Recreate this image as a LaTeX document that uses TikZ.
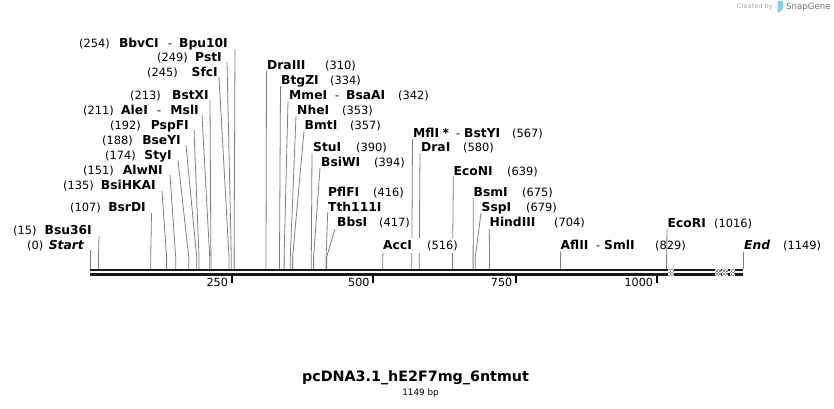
\documentclass[tikz,border=0pt]{standalone}
\usepackage{fontspec}
\setmainfont{DejaVu Sans}
\definecolor{linegray}{HTML}{808080}
\definecolor{logoblue}{HTML}{7FD0F0}
\begin{document}
\begin{tikzpicture}[x=1pt,y=-1pt,
  nm/.style={font=\fontsize{12.3}{13}\selectfont\bfseries, inner sep=0pt, anchor=base west},
  nmr/.style={nm, anchor=base east},
  nmit/.style={font=\fontsize{12.3}{13}\selectfont\bfseries\itshape, inner sep=0pt, anchor=base west},
  nmitr/.style={nmit, anchor=base east},
  num/.style={font=\fontsize{11.4}{12}\selectfont, inner sep=0pt, anchor=base west},
  hy/.style={num},
  siteline/.style={draw=linegray, line width=0.8pt},
  ticklab/.style={font=\fontsize{11.2}{12}\selectfont, inner sep=0pt, anchor=base east},
  tickbar/.style={fill=black}]
\useasboundingbox (0,0) rectangle (834,408);
\fill[white] (0,0) rectangle (834,408);

% ---------- site lines ----------
\foreach \n/\tx/\ty/\sx in {
  l1/235/49/234.1, l2/227/62/231.3, l3/219/77/229.0, l4/210/100/210.9,
  l5/202/115/209.7, l6/194/130/199.0, l7/186/145/196.7, l8/178/160/188.7,
  l9/170/175/175.7, l10/162/191/166.6, l11/151.5/213/150.7, l12/99/236/98.5,
  l13/90.5/250/90.5,
  r1/266.5/71/266, r2/280.5/86/279.5, r3/288/101/284.1, r4/296/116/290.3,
  r5/304/131/292.6, r6/312/153/311.3, r7/320/168/313.6, r8/327.7/212/326.1,
  r9/335/229/326.6, r10/383/252/382.8, r11/412.5/139/411.8, r12/420/153/419.2,
  r13/453.3/176/452.6, r14/473.3/198/473.1, r15/481/213/475.3, r16/489.3/229/489.5,
  r17/560.7/251/560.5, r18/667/229/666.6, r19/743/252/743}{
  \coordinate (\n-top) at (\tx,\ty);
  \coordinate (\n-k) at (\sx,257);
  \coordinate (\n-b) at (\sx,269);
  \draw[siteline] (\n-top) -- (\n-k) -- (\n-b);
}

% ---------- backbone ----------
\coordinate (bbL) at (90,269);
\coordinate (bbR) at (743.3,271.3);
\coordinate (bb2L) at (90,273);
\coordinate (bb2R) at (743.3,275.7);
\fill[black!90] (bbL) rectangle (bbR);
\fill[black!90] (bb2L) rectangle (bb2R);
\foreach \bx in {668.3,715,721.7,729.5}{
  \fill[white] (\bx,268.8) rectangle ++(5.8,7.2);
  \foreach \i in {0,1,2,3}{\foreach \j in {0,1,2,3,4}{
    \pgfmathtruncatemacro\chk{mod(\i+\j,2)}
    \ifnum\chk=0 \fill[black!45] (\bx+\i*1.45,268.8+\j*1.45) rectangle ++(1.45,1.45);\fi
  }}
}

% ---------- ticks ----------
\foreach \n/\tx/\lab in {t250/231.7/250, t500/373.3/500, t750/516/750, t1000/656.7/1000}{
  \coordinate (\n) at (\tx,275.7);
  \fill[tickbar] (\tx-0.9,275.7) rectangle (\tx+0.9,282.5);
  \node[ticklab] (\n-lab) at (\tx-3.5,286) {\lab};
}

% ---------- left labels ----------
\node[num] (n254) at (79,47) {(254)};
\node[nmr] (a254) at (159,47) {BbvCI};
\node[hy] (h254) at (168,47) {-};
\node[nmr] (b254) at (228,47) {Bpu10I};
\node[num] (n249) at (157,61) {(249)};
\node[nmr] (a249) at (222,61) {PstI};
\node[num] (n245) at (147,76) {(245)};
\node[nmr] (a245) at (218,76) {SfcI};
\node[num] (n213) at (130,99) {(213)};
\node[nmr] (a213) at (209,99) {BstXI};
\node[num] (n211) at (83,114) {(211)};
\node[nm] (a211) at (121,114) {AleI};
\node[hy] (h211) at (157,114) {-};
\node[nmr] (b211) at (199,114) {MslI};
\node[num] (n192) at (110,129) {(192)};
\node[nmr] (a192) at (189,129) {PspFI};
\node[num] (n188) at (102,144) {(188)};
\node[nmr] (a188) at (181,144) {BseYI};
\node[num] (n174) at (105,159) {(174)};
\node[nmr] (a174) at (172,159) {StyI};
\node[num] (n151) at (83,174) {(151)};
\node[nmr] (a151) at (163,174) {AlwNI};
\node[num] (n135) at (63,189) {(135)};
\node[nmr] (a135) at (156,189) {BsiHKAI};
\node[num] (n107) at (70,211) {(107)};
\node[nmr] (a107) at (146,211) {BsrDI};
\node[num] (n15) at (13,234) {(15)};
\node[nmr] (a15) at (92,234) {Bsu36I};
\node[num] (n0) at (27,249) {(0)};
\node[nmitr] (a0) at (84,249) {Start};

% ---------- right labels ----------
\node[nm] (a310) at (267,69) {DraIII};
\node[num] (n310) at (325,69) {(310)};
\node[nm] (a334) at (281,84) {BtgZI};
\node[num] (n334) at (330,84) {(334)};
\node[nm] (a342) at (289,99) {MmeI};
\node[hy] (h342) at (335,99) {-};
\node[nm] (b342) at (346,99) {BsaAI};
\node[num] (n342) at (398,99) {(342)};
\node[nm] (a353) at (297,114) {NheI};
\node[num] (n353) at (342,114) {(353)};
\node[nm] (a357) at (304.5,129) {BmtI};
\node[num] (n357) at (350,129) {(357)};
\node[nm] (a390) at (313,151) {StuI};
\node[num] (n390) at (356,151) {(390)};
\node[nm] (a394) at (321,166) {BsiWI};
\node[num] (n394) at (374,166) {(394)};
\node[nm] (a416) at (328,196) {PflFI};
\node[num] (n416) at (373,196) {(416)};
\node[nm] (b416) at (328,211) {Tth111I};
\node[nm] (a417) at (337,226) {BbsI};
\node[num] (n417) at (379,226) {(417)};
\fill[white] (381,238) rectangle (462,252.5);
\node[nm] (a516) at (383,249) {AccI};
\node[num] (n516) at (427,249) {(516)};
\node[nm] (a567) at (413,137) {MflI};
\node[nm] (s567) at (442.5,137) {*};
\node[hy] (h567) at (456,137) {-};
\node[nm] (b567) at (464,137) {BstYI};
\node[num] (n567) at (512,137) {(567)};
\node[nm] (a580) at (421,151) {DraI};
\node[num] (n580) at (463,151) {(580)};
\node[nm] (a639) at (453.5,175) {EcoNI};
\node[num] (n639) at (507,175) {(639)};
\node[nm] (a675) at (473.5,196) {BsmI};
\node[num] (n675) at (522,196) {(675)};
\node[nm] (a679) at (481.5,211) {SspI};
\node[num] (n679) at (526,211) {(679)};
\node[nm] (a704) at (489.5,226) {HindIII};
\node[num] (n704) at (554,226) {(704)};
\node[nm] (a829) at (560.5,249) {AflII};
\node[hy] (h829) at (596,249) {-};
\node[nm] (b829) at (604,249) {SmlI};
\node[num] (n829) at (655,249) {(829)};
\node[nm] (a1016) at (667.5,227) {EcoRI};
\node[num] (n1016) at (714,227) {(1016)};
\node[nmit] (a1149) at (744,249) {End};
\node[num] (n1149) at (783,249) {(1149)};

% ---------- title ----------
\node[font=\fontsize{14.3}{16}\selectfont\bfseries, inner sep=0pt] (title) at (415.5,378) {pcDNA3.1\_hE2F7mg\_6ntmut};
\node[font=\fontsize{8.8}{10}\selectfont, inner sep=0pt] (len) at (420.5,393) {1149 bp};

% ---------- logo ----------
\node[font=\fontsize{6.5}{8}\selectfont, text=black!35, inner sep=0pt, anchor=west] (created) at (736.7,7) {Created by};
\fill[logoblue] (777.5,1) -- (783,1) -- (783,7.5) .. controls (783,10) and (781,11.5) .. (778.5,12.5) -- (777.5,12.5) -- cycle;
\node[font=\fontsize{8.6}{10}\selectfont, text=black!55, inner sep=0pt, anchor=west] (snapgene) at (786,7) {SnapGene};
\end{tikzpicture}
\end{document}
